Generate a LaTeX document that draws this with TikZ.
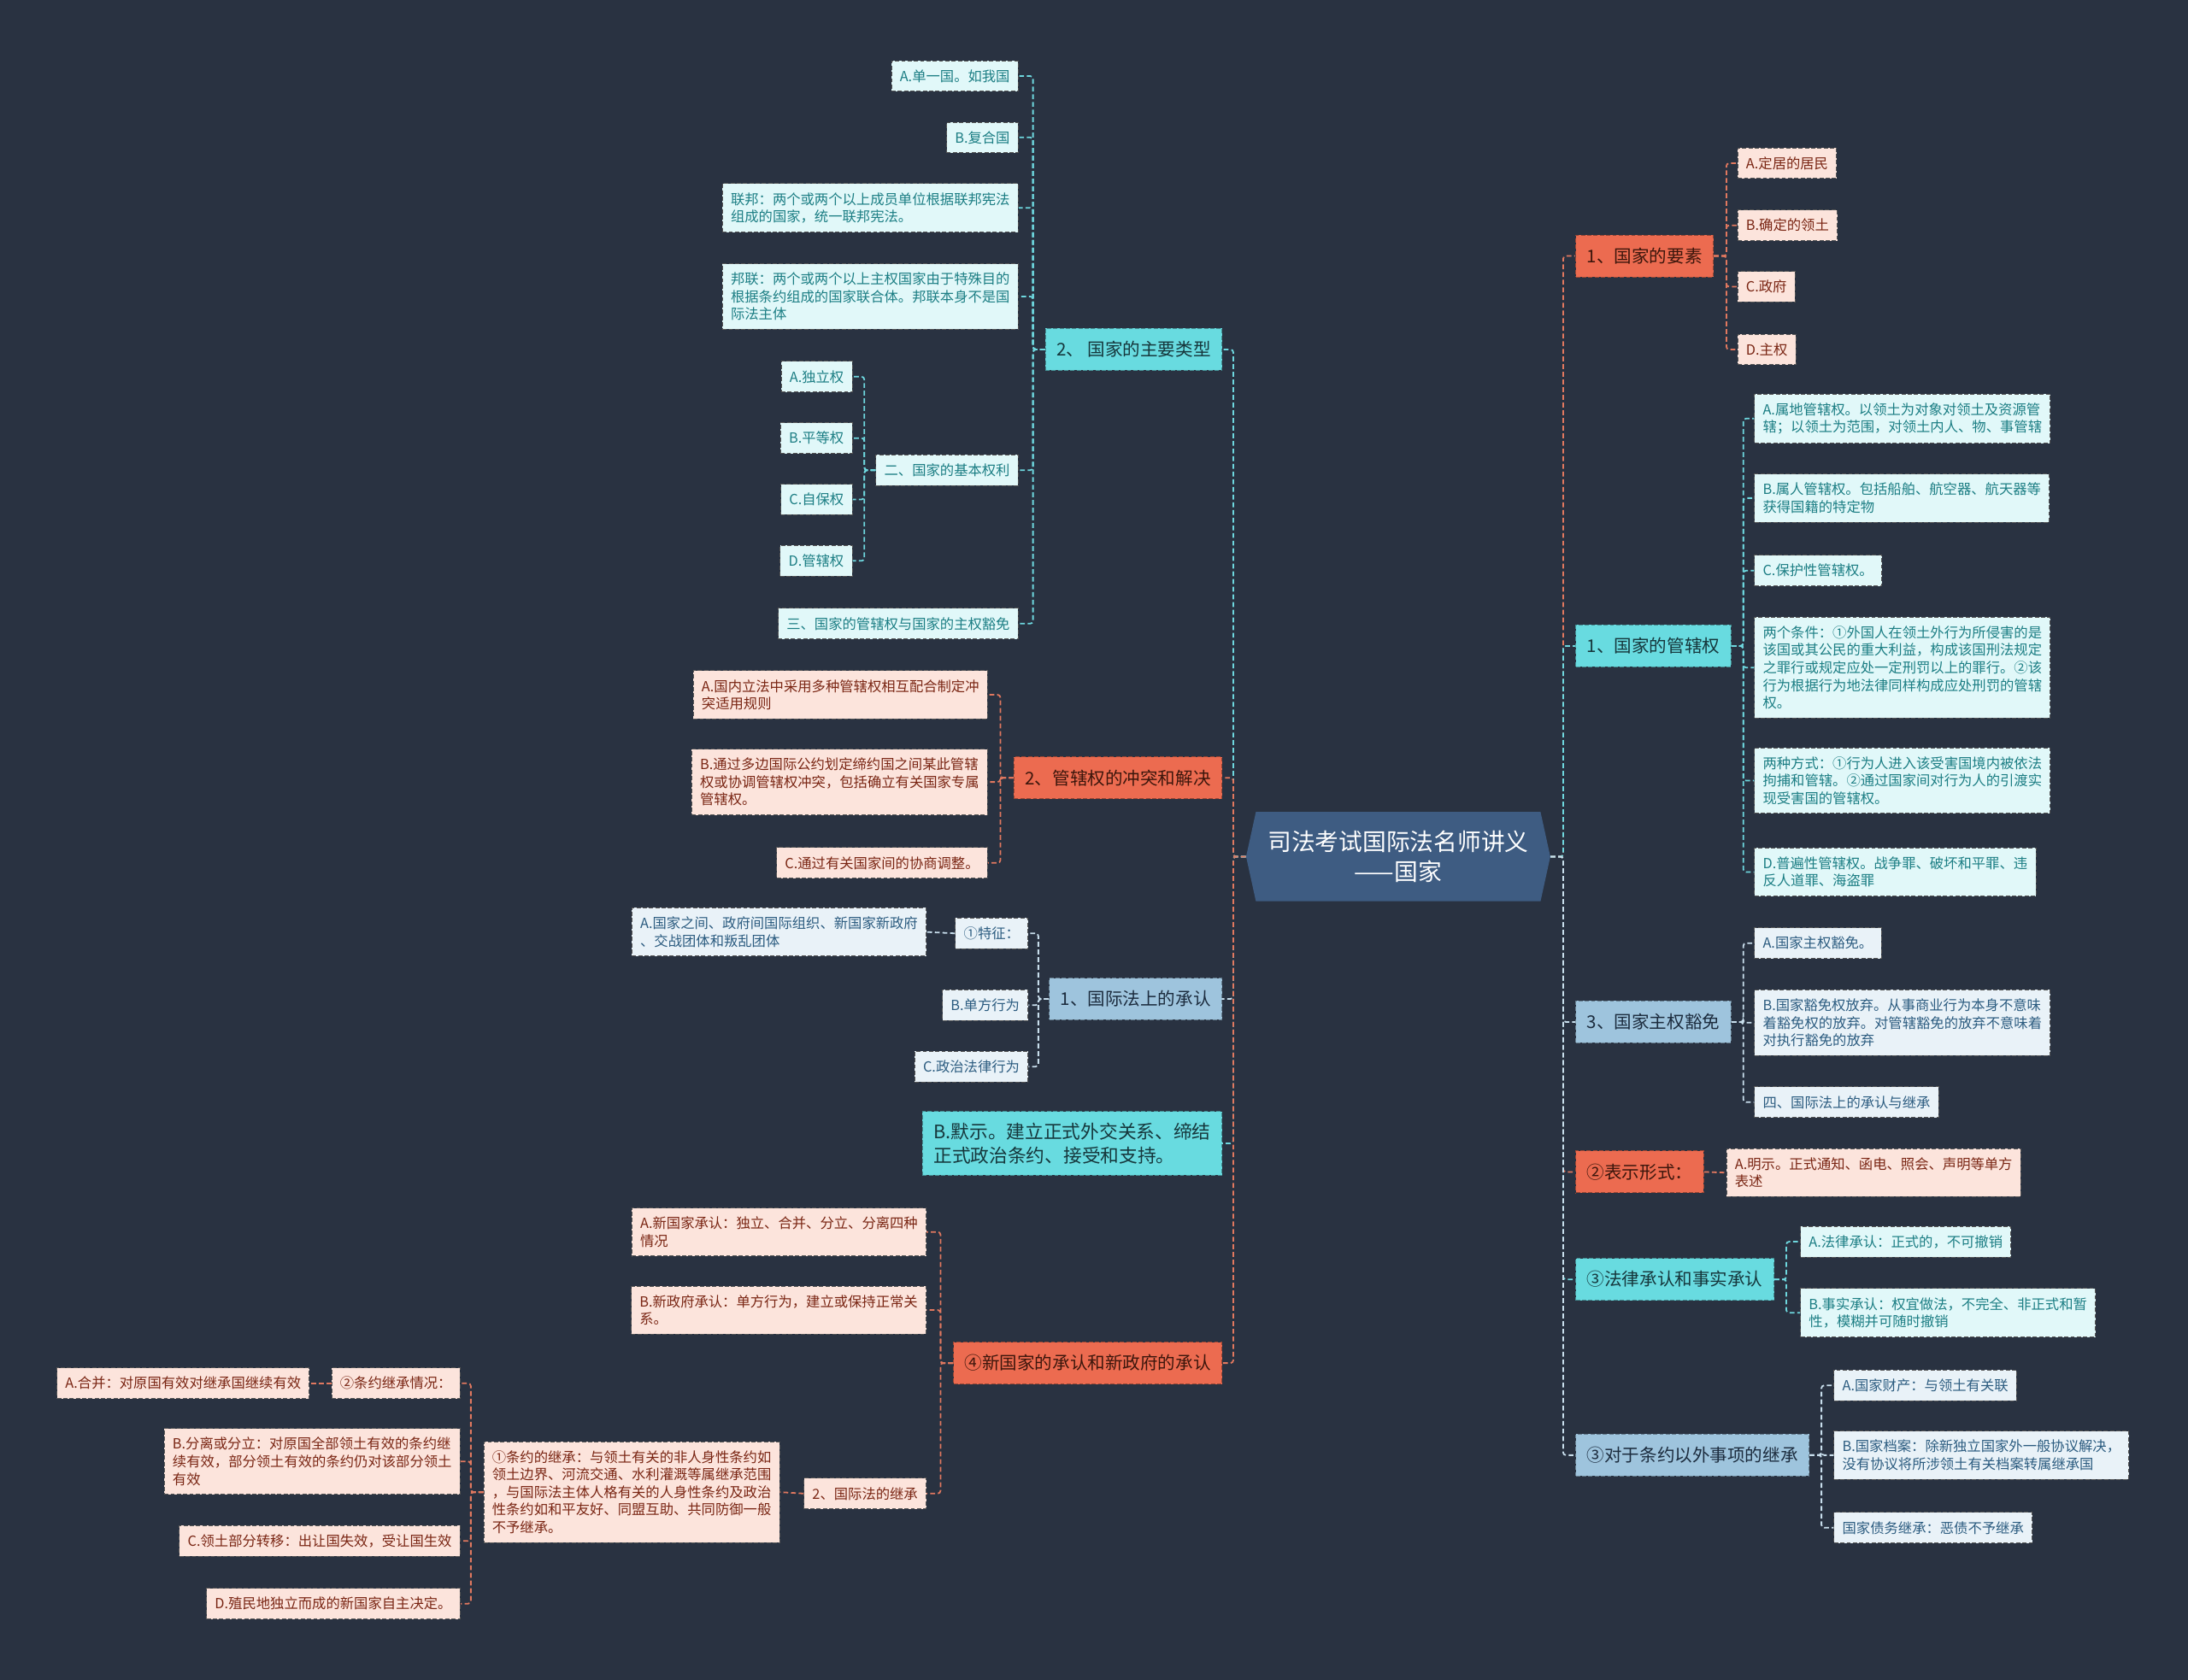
\documentclass[tikz,border=0pt]{standalone}
\usepackage{fontspec}
\newfontfamily\cjk{Noto Sans CJK SC}
\definecolor{bg}{RGB}{41,50,65}
\definecolor{hexf}{RGB}{62,92,130}
\definecolor{orL}{RGB}{236,107,80}
\definecolor{cyL}{RGB}{104,219,224}
\definecolor{lbL}{RGB}{158,196,221}
\definecolor{orT}{RGB}{60,22,12}
\definecolor{cyT}{RGB}{22,55,60}
\definecolor{lbT}{RGB}{28,44,62}
\definecolor{pkF}{RGB}{252,228,220}
\definecolor{pkT}{RGB}{122,38,20}
\definecolor{cyF}{RGB}{225,248,249}
\definecolor{cyTT}{RGB}{28,126,132}
\definecolor{lbF}{RGB}{233,242,248}
\definecolor{lbTT}{RGB}{44,92,128}
\definecolor{cOr}{RGB}{225,120,95}
\definecolor{cCy}{RGB}{110,215,222}
\definecolor{cLb}{RGB}{200,222,236}
\definecolor{bord}{RGB}{85,85,85}
\begin{document}
\begin{tikzpicture}[x=1pt,y=-1pt,
  base/.style={font=\cjk\fontsize{10pt}{12.6pt}\selectfont, align=left, inner xsep=6pt, inner ysep=6.3pt, draw=bord, line width=0.6pt, dash pattern=on 3pt off 1.5pt},
  pk/.style={base, fill=pkF, text=pkT},
  cy/.style={base, fill=cyF, text=cyTT},
  lb/.style={base, fill=lbF, text=lbTT},
  topn/.style={font=\cjk\fontsize{12.6pt}{17pt}\selectfont, align=left, inner xsep=8pt, inner ysep=8pt, minimum height=30pt, line width=0.6pt, dash pattern=on 3pt off 1.5pt},
  tor/.style={topn, fill=orL, draw=orL!65!black, text=orT},
  tcy/.style={topn, fill=cyL, draw=cyL!65!black, text=cyT},
  tlb/.style={topn, fill=lbL, draw=lbL!65!black, text=lbT},
  conn/.style={line width=1.1pt, dash pattern=on 3.5pt off 2pt, rounded corners=2pt},
  co/.style={conn, draw=cOr},
  cc/.style={conn, draw=cCy},
  cl/.style={conn, draw=cLb}
]
\fill[bg] (0,0) rectangle (1568,1204);
\useasboundingbox (0,0) rectangle (1568,1204);

% root
\fill[hexf] (893,614) -- (900,582) -- (1104,582) -- (1111,614) -- (1104,646) -- (900,646) -- cycle;
\node[font=\cjk\fontsize{17pt}{21pt}\selectfont, text=white, align=center, minimum width=218pt, minimum height=64pt, inner sep=0pt] (root) at (1002,614) {司法考试国际法名师讲义\\——国家};

% right side
\node[tor, anchor=west] (r1) at (1129,183.5) {1、国家的要素};
\node[pk, anchor=west] (r1a) at (1245,117) {A.定居的居民};
\node[pk, anchor=west] (r1b) at (1245,161.5) {B.确定的领土};
\node[pk, anchor=west] (r1c) at (1245,205.5) {C.政府};
\node[pk, anchor=west] (r1d) at (1245,250.5) {D.主权};

\node[tcy, anchor=west] (r2) at (1129,463) {1、国家的管辖权};
\node[cy, anchor=west] (r2a) at (1257,300) {A.属地管辖权。以领土为对象对领土及资源管\\辖；以领土为范围，对领土内人、物、事管辖};
\node[cy, anchor=west] (r2b) at (1257,357) {B.属人管辖权。包括船舶、航空器、航天器等\\获得国籍的特定物};
\node[cy, anchor=west] (r2c) at (1257,409) {C.保护性管辖权。};
\node[cy, anchor=west] (r2d) at (1257,478.5) {两个条件：①外国人在领土外行为所侵害的是\\该国或其公民的重大利益，构成该国刑法规定\\之罪行或规定应处一定刑罚以上的罪行。②该\\行为根据行为地法律同样构成应处刑罚的管辖\\权。};
\node[cy, anchor=west] (r2e) at (1257,559.5) {两种方式：①行为人进入该受害国境内被依法\\拘捕和管辖。②通过国家间对行为人的引渡实\\现受害国的管辖权。};
\node[cy, anchor=west] (r2f) at (1257,625) {D.普遍性管辖权。战争罪、破坏和平罪、违\\反人道罪、海盗罪};

\node[tlb, anchor=west] (r3) at (1129,732.5) {3、国家主权豁免};
\node[lb, anchor=west] (r3a) at (1257,676) {A.国家主权豁免。};
\node[lb, anchor=west] (r3b) at (1257,733) {B.国家豁免权放弃。从事商业行为本身不意味\\着豁免权的放弃。对管辖豁免的放弃不意味着\\对执行豁免的放弃};
\node[lb, anchor=west] (r3c) at (1257,790) {四、国际法上的承认与继承};

\node[tor, anchor=west] (r4) at (1129,840) {②表示形式：};
\node[pk, anchor=west] (r4a) at (1237,840.5) {A.明示。正式通知、函电、照会、声明等单方\\表述};

\node[tcy, anchor=west] (r5) at (1129,917) {③法律承认和事实承认};
\node[cy, anchor=west] (r5a) at (1290,890) {A.法律承认：正式的，不可撤销};
\node[cy, anchor=west] (r5b) at (1290,941) {B.事实承认：权宜做法，不完全、非正式和暂\\性，模糊并可随时撤销};

\node[tlb, anchor=west] (r6) at (1129,1043) {③对于条约以外事项的继承};
\node[lb, anchor=west] (r6a) at (1314,993) {A.国家财产：与领土有关联};
\node[lb, anchor=west] (r6b) at (1314,1043) {B.国家档案：除新独立国家外一般协议解决，\\没有协议将所涉领土有关档案转属继承国};
\node[lb, anchor=west] (r6c) at (1314,1095) {国家债务继承：恶债不予继承};

% left side
\node[tcy, anchor=east] (l1) at (876,250.5) {2、 国家的主要类型};
\node[cy, anchor=east] (l1a) at (730,54.5) {A.单一国。如我国};
\node[cy, anchor=east] (l1b) at (730,98.5) {B.复合国};
\node[cy, anchor=east] (l1c) at (730,149) {联邦：两个或两个以上成员单位根据联邦宪法\\组成的国家，统一联邦宪法。};
\node[cy, anchor=east] (l1d) at (730,212.5) {邦联：两个或两个以上主权国家由于特殊目的\\根据条约组成的国家联合体。邦联本身不是国\\际法主体};
\node[cy, anchor=east] (l1e) at (730,337) {二、国家的基本权利};
\node[cy, anchor=east] (l1e1) at (611,270) {A.独立权};
\node[cy, anchor=east] (l1e2) at (611,314) {B.平等权};
\node[cy, anchor=east] (l1e3) at (611,358) {C.自保权};
\node[cy, anchor=east] (l1e4) at (611,402) {D.管辖权};
\node[cy, anchor=east] (l1f) at (730,447) {三、国家的管辖权与国家的主权豁免};

\node[tor, anchor=east] (l2) at (876,557.5) {2、管辖权的冲突和解决};
\node[pk, anchor=east] (l2a) at (708,498) {A.国内立法中采用多种管辖权相互配合制定冲\\突适用规则};
\node[pk, anchor=east] (l2b) at (708,560.5) {B.通过多边国际公约划定缔约国之间某此管辖\\权或协调管辖权冲突，包括确立有关国家专属\\管辖权。};
\node[pk, anchor=east] (l2c) at (708,618.5) {C.通过有关国家间的协商调整。};

\node[tlb, anchor=east] (l3) at (876,716) {1、国际法上的承认};
\node[lb, anchor=east] (l3a) at (737,669) {①特征：};
\node[lb, anchor=east] (l3a1) at (664,668) {A.国家之间、政府间国际组织、新国家新政府\\、交战团体和叛乱团体};
\node[lb, anchor=east] (l3b) at (737,720.5) {B.单方行为};
\node[lb, anchor=east] (l3c) at (737,764.5) {C.政治法律行为};

\node[tcy, anchor=east, font=\cjk\fontsize{13.3pt}{17pt}\selectfont] (l4) at (876,819.5) {B.默示。建立正式外交关系、缔结\\正式政治条约、接受和支持。};

\node[tor, anchor=east] (l5) at (876,977) {④新国家的承认和新政府的承认};
\node[pk, anchor=east] (l5a) at (664,883) {A.新国家承认：独立、合并、分立、分离四种\\情况};
\node[pk, anchor=east] (l5b) at (664,939) {B.新政府承认：单方行为，建立或保持正常关\\系。};
\node[pk, anchor=east] (l5c) at (664,1070.5) {2、国际法的继承};
\node[pk, anchor=east] (l5c1) at (559,1069.5) {①条约的继承：与领土有关的非人身性条约如\\领土边界、河流交通、水利灌溉等属继承范围\\，与国际法主体人格有关的人身性条约及政治\\性条约如和平友好、同盟互助、共同防御一般\\不予继承。};
\node[pk, anchor=east] (l5c1a) at (330,991.5) {②条约继承情况：};
\node[pk, anchor=east] (l5c1a1) at (222,991.5) {A.合并：对原国有效对继承国继续有效};
\node[pk, anchor=east] (l5c1b) at (330,1047.5) {B.分离或分立：对原国全部领土有效的条约继\\续有效，部分领土有效的条约仍对该部分领土\\有效};
\node[pk, anchor=east] (l5c1c) at (330,1104.5) {C.领土部分转移：出让国失效，受让国生效};
\node[pk, anchor=east] (l5c1d) at (330,1149.5) {D.殖民地独立而成的新国家自主决定。};

% connectors: root to level 1 (right)
\draw[co] (root.east) -- ++(9,0) |- (r1.west);
\draw[cc] (root.east) -- ++(9,0) |- (r2.west);
\draw[cl] (root.east) -- ++(9,0) |- (r3.west);
\draw[co] (root.east) -- ++(9,0) |- (r4.west);
\draw[cc] (root.east) -- ++(9,0) |- (r5.west);
\draw[cl] (root.east) -- ++(9,0) |- (r6.west);
% left
\draw[cc] (root.west) -- ++(-9,0) |- (l1.east);
\draw[co] (root.west) -- ++(-9,0) |- (l2.east);
\draw[cl] (root.west) -- ++(-9,0) |- (l3.east);
\draw[cc] (root.west) -- ++(-9,0) |- (l4.east);
\draw[co] (root.west) -- ++(-9,0) |- (l5.east);

% right children
\foreach \c in {r1a,r1b,r1c,r1d} \draw[co] (r1.east) -- ++(9,0) |- (\c.west);
\foreach \c in {r2a,r2b,r2c,r2d,r2e,r2f} \draw[cc] (r2.east) -- ++(8.5,0) |- (\c.west);
\foreach \c in {r3a,r3b,r3c} \draw[cl] (r3.east) -- ++(8.5,0) |- (\c.west);
\draw[co] (r4.east) -- (r4a.west);
\foreach \c in {r5a,r5b} \draw[cc] (r5.east) -- ++(8.5,0) |- (\c.west);
\foreach \c in {r6a,r6b,r6c} \draw[cl] (r6.east) -- ++(8.5,0) |- (\c.west);

% left children
\foreach \c in {l1a,l1b,l1c,l1d,l1e,l1f} \draw[cc] (l1.west) -- ++(-8.5,0) |- (\c.east);
\foreach \c in {l1e1,l1e2,l1e3,l1e4} \draw[cc] (l1e.west) -- ++(-8,0) |- (\c.east);
\foreach \c in {l2a,l2b,l2c} \draw[co] (l2.west) -- ++(-9.5,0) |- (\c.east);
\foreach \c in {l3a,l3b,l3c} \draw[cl] (l3.west) -- ++(-7.5,0) |- (\c.east);
\draw[cl] (l3a.west) -- (l3a1.east);
\foreach \c in {l5a,l5b,l5c} \draw[co] (l5.west) -- ++(-9,0) |- (\c.east);
\draw[co] (l5c.west) -- (l5c1.east);
\foreach \c in {l5c1a,l5c1b,l5c1c,l5c1d} \draw[co] (l5c1.west) -- ++(-9,0) |- (\c.east);
\draw[co] (l5c1a.west) -- (l5c1a1.east);
\end{tikzpicture}
\end{document}
